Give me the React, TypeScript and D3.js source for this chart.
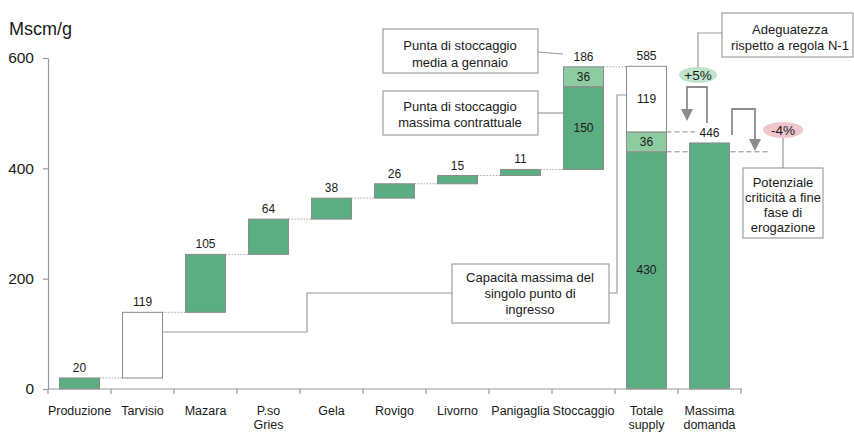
import React, { useEffect, useRef } from "react";
import * as d3 from "d3";

// Categories along the x axis (multi-line labels kept separately)
const categories = [
  "Produzione",
  "Tarvisio",
  "Mazara",
  "P.so Gries",
  "Gela",
  "Rovigo",
  "Livorno",
  "Panigaglia",
  "Stoccaggio",
  "Totale supply",
  "Massima domanda",
];
const categoryLines = [
  ["Produzione"],
  ["Tarvisio"],
  ["Mazara"],
  ["P.so", "Gries"],
  ["Gela"],
  ["Rovigo"],
  ["Livorno"],
  ["Panigaglia"],
  ["Stoccaggio"],
  ["Totale", "supply"],
  ["Massima", "domanda"],
];

// Supply contributions (Mscm/g), in waterfall order
const entryValues = [20, 119, 105, 64, 38, 26, 15, 11];
const entryKinds = ["flow", "spare", "flow", "flow", "flow", "flow", "flow", "flow"];
const storageValues = [150, 36];
const storageTotal = 186;
const supplyValues = [430, 36, 119];
const supplyTotal = 585;
const peakDemand = 446;
const yTicks = [0, 200, 400, 600];

const W = 854;
const H = 432;
const DARK = "#5BAD82";
const LIGHT = "#8FCBA0";
const EDGE = "#8c8c8c";
const LINE = "#9a9a9a";
const TEXT = "#1a1a1a";
const FONT = "'Liberation Sans', Arial, Helvetica, sans-serif";

const x = d3.scaleBand<string>().domain(categories).range([48, 741]).paddingInner(0.365).paddingOuter(0.1825);
const y = d3.scaleLinear().domain([0, 600]).range([389, 58]);
const bw = x.bandwidth();

type Seg = { cat: string; y0: number; y1: number; fill: string; label?: string };

const segments: Seg[] = [];
const topLabels: { cat: string; value: number; text: string }[] = [];
const connectors: { from: string; to: string; level: number }[] = [];

let cum = 0;
entryValues.forEach((v, i) => {
  const cat = categories[i];
  segments.push({ cat, y0: cum, y1: cum + v, fill: entryKinds[i] === "spare" ? "#ffffff" : DARK });
  topLabels.push({ cat, value: cum + v, text: String(v) });
  cum += v;
  connectors.push({ from: cat, to: categories[i + 1], level: cum });
});
{
  const cat = "Stoccaggio";
  const fills = [DARK, LIGHT];
  storageValues.forEach((v, i) => {
    segments.push({ cat, y0: cum, y1: cum + v, fill: fills[i], label: String(v) });
    cum += v;
  });
  topLabels.push({ cat, value: cum, text: String(storageTotal) });
  connectors.push({ from: cat, to: "Totale supply", level: cum });
}
{
  const cat = "Totale supply";
  const fills = [DARK, LIGHT, "#ffffff"];
  let s = 0;
  supplyValues.forEach((v, i) => {
    segments.push({ cat, y0: s, y1: s + v, fill: fills[i], label: String(v) });
    s += v;
  });
  topLabels.push({ cat, value: supplyTotal, text: String(supplyTotal) });
}
segments.push({ cat: "Massima domanda", y0: 0, y1: peakDemand, fill: DARK });
topLabels.push({ cat: "Massima domanda", value: peakDemand, text: String(peakDemand) });

function Callout({ x0, y0, w, h, lines, cx, cy0, dy }: { x0: number; y0: number; w: number; h: number; lines: string[]; cx: number; cy0: number; dy: number }) {
  return (
    <g>
      <rect x={x0} y={y0} width={w} height={h} fill="#fff" stroke={EDGE} strokeWidth={1} />
      {lines.map((l, i) => (
        <text key={i} x={cx} y={cy0 + i * dy} textAnchor="middle" dominantBaseline="central" fontSize={13} fill={TEXT}>
          {l}
        </text>
      ))}
    </g>
  );
}

export default function App() {
  const yAxisRef = useRef<SVGGElement>(null);

  useEffect(() => {
    if (!yAxisRef.current) return;
    const g = d3.select(yAxisRef.current);
    g.call(d3.axisLeft(y).tickValues(yTicks).tickSize(5).tickSizeOuter(0).tickPadding(9));
    g.selectAll("path, line").attr("stroke", "#999").attr("stroke-width", 1.2);
    g.selectAll("text").attr("font-size", 15.5).attr("font-family", FONT).attr("fill", TEXT);
  }, []);

  const step = x.step();
  const boundaries = categories.map((c) => (x(c) as number) - (step - bw) / 2).concat([741]);
  const supplyX = x("Totale supply") as number;

  return (
    <div style={{ position: "absolute", left: 0, top: 0 }}>
      <svg width={W} height={H} style={{ display: "block", fontFamily: FONT }}>
        <rect width={W} height={H} fill="#fff" />
        <text x={9} y={35} fontSize={18} fill={TEXT}>Mscm/g</text>

        {/* Dashed reference levels from the total supply bar */}
        <line x1={supplyX + bw} x2={695} y1={y(supplyValues[0] + supplyValues[1])} y2={y(supplyValues[0] + supplyValues[1])} stroke={EDGE} strokeDasharray="5,3" />
        <line x1={supplyX + bw} x2={768} y1={y(supplyValues[0])} y2={y(supplyValues[0])} stroke={EDGE} strokeDasharray="5,3" />

        {/* Waterfall connectors */}
        {connectors.map((c, i) => (
          <line key={i} x1={(x(c.from) as number) + bw} x2={x(c.to) as number} y1={y(c.level)} y2={y(c.level)} stroke="#aaa" strokeDasharray="1.5,1.5" />
        ))}

        {/* Callout leader lines */}
        <g fill="none" stroke={LINE} strokeWidth={1.2}>
          <polyline points={`${(x("Tarvisio") as number) + bw},332 307,332 307,293 452,293`} />
          <polyline points={`609,293 617,293 617,95 ${supplyX},95`} />
          <polyline points={`538,52 563,54`} />
          <polyline points={`538,113 ${x("Stoccaggio") as number},113`} />
          <polyline points="722,33 698,33 698,67" />
          <polyline points="783,138 783,168" />
        </g>

        {/* Bars */}
        {segments.map((s, i) => (
          <rect key={i} x={x(s.cat) as number} y={y(s.y1)} width={bw} height={y(s.y0) - y(s.y1)} fill={s.fill} stroke={EDGE} strokeWidth={1} />
        ))}
        {segments.filter((s) => s.label).map((s, i) => (
          <text key={i} x={(x(s.cat) as number) + bw / 2} y={y((s.y0 + s.y1) / 2)} textAnchor="middle" dominantBaseline="central" fontSize={12} fill={TEXT}>
            {s.label}
          </text>
        ))}
        {topLabels.map((l, i) => (
          <text key={i} x={(x(l.cat) as number) + bw / 2} y={y(l.value) - 10} textAnchor="middle" dominantBaseline="central" fontSize={12} fill={TEXT}>
            {l.text}
          </text>
        ))}

        {/* Axes */}
        <g ref={yAxisRef} transform="translate(48,0)" />
        <line x1={48} x2={742} y1={y(0)} y2={y(0)} stroke="#999" strokeWidth={1.2} />
        {boundaries.map((b, i) => (
          <line key={i} x1={b} x2={b} y1={y(0)} y2={y(0) + 5} stroke="#999" strokeWidth={1.2} />
        ))}
        {categoryLines.map((lines, i) => (
          <text key={i} x={(x(categories[i]) as number) + bw / 2} y={411} textAnchor="middle" fontSize={12.5} fill={TEXT}>
            {lines.map((l, j) => (
              <tspan key={j} x={(x(categories[i]) as number) + bw / 2} y={411 + j * 14} dominantBaseline="central">
                {l}
              </tspan>
            ))}
          </text>
        ))}

        {/* N-1 adequacy arrows */}
        <g fill="none" stroke={EDGE} strokeWidth={1.8}>
          <polyline points="707,123 707,87 687,87 687,112" />
          <polyline points="732,135 732,109 755,109 755,142" />
        </g>
        <polygon points="681,109 693,109 687,121" fill={EDGE} />
        <polygon points="749,139 761,139 755,151" fill={EDGE} />

        <ellipse cx={698} cy={75} rx={19} ry={8} fill="#c0e4ca" />
        <text x={698} y={75} textAnchor="middle" dominantBaseline="central" fontSize={13.5} fill={TEXT}>+5%</text>
        <ellipse cx={783} cy={130} rx={20} ry={8} fill="#efc6ca" />
        <text x={783} y={130} textAnchor="middle" dominantBaseline="central" fontSize={13.5} fill={TEXT}>-4%</text>

        {/* Callout boxes */}
        <Callout x0={383} y0={29} w={155} h={44} lines={["Punta di stoccaggio", "media a gennaio"]} cx={460} cy0={45} dy={17} />
        <Callout x0={383} y0={91} w={155} h={44} lines={["Punta di stoccaggio", "massima contrattuale"]} cx={460} cy0={106} dy={16} />
        <Callout x0={452} y0={264} w={157} h={59} lines={["Capacità massima del", "singolo punto di", "ingresso"]} cx={530} cy0={277} dy={16} />
        <Callout x0={722} y0={13} w={131} h={44} lines={["Adeguatezza", "rispetto a regola N-1"]} cx={790} cy0={29} dy={16} />
        <Callout x0={743} y0={168} w={80} h={70} lines={["Potenziale", "criticità a fine", "fase di", "erogazione"]} cx={783} cy0={182} dy={15.3} />
      </svg>
    </div>
  );
}
